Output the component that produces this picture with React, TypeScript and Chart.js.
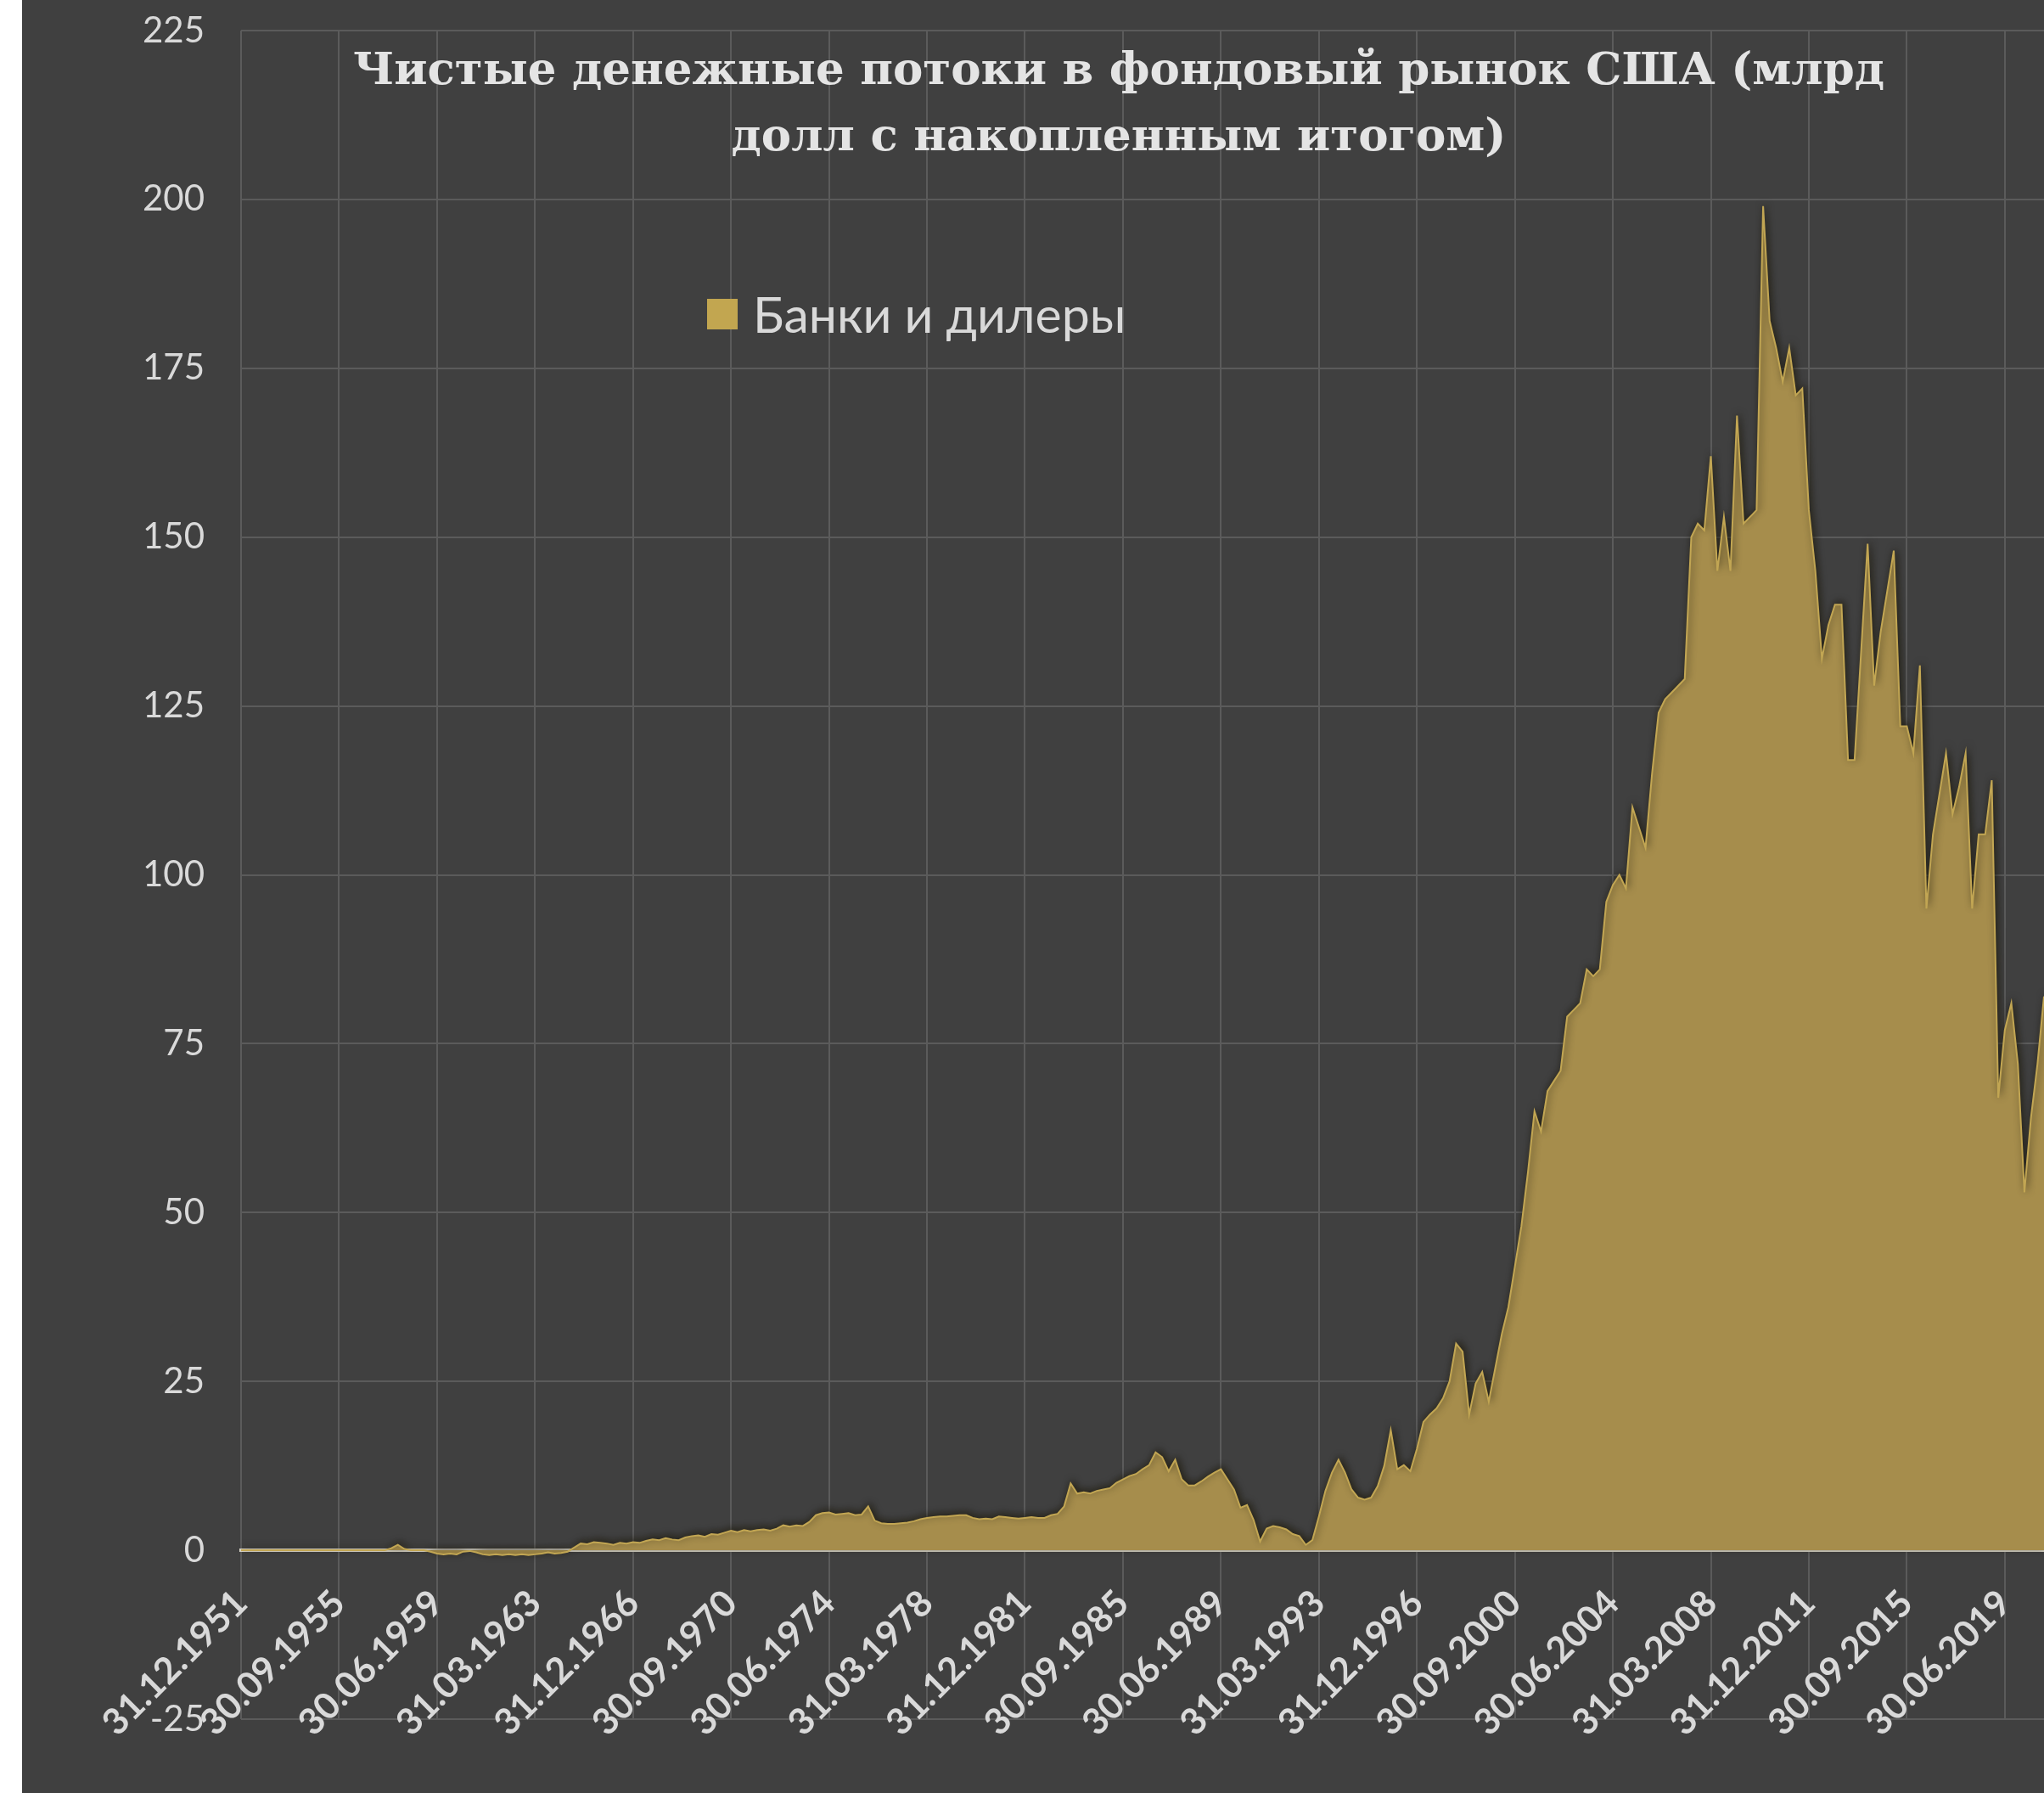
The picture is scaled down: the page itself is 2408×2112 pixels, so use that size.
import React, { useEffect, useRef } from "react";
import { Chart, registerables } from "chart.js";

Chart.register(...registerables);

// Cumulative net flows, bn USD, quarterly from 31.12.1951
const FLOWS_A = [0, 0, 0, 0, 0, 0, 0, 0, 0, 0, 0, 0, 0, 0, 0, 0, 0, 0, 0, 0];
const FLOWS_B = [0, 0, 0, 0.3, 0.8, 0.2, 0, 0, 0, -0.2, -0.5, -0.6, -0.5, -0.6, -0.2, -0.1, -0.3, -0.6, -0.7, -0.6];
const FLOWS_C = [-0.7, -0.6, -0.7, -0.6, -0.7, -0.6, -0.5, -0.3, -0.5, -0.4, -0.2, 0.4, 1.0, 0.9, 1.2, 1.1, 1.0, 0.8, 1.1, 1.0];
const FLOWS_D = [1.2, 1.1, 1.4, 1.6, 1.5, 1.8, 1.6, 1.5, 1.9, 2.1, 2.2, 2.0, 2.4, 2.3, 2.6, 2.9, 2.7, 3.0, 2.8, 3.0];
const FLOWS_E = [3.1, 2.9, 3.2, 3.7, 3.5, 3.7, 3.6, 4.2, 5.2, 5.5, 5.6, 5.3, 5.4, 5.5, 5.2, 5.3, 6.5, 4.4, 4.0, 3.9];
const FLOWS_F = [3.9, 4.0, 4.1, 4.3, 4.6, 4.8, 4.9, 5.0, 5.0, 5.1, 5.2, 5.2, 4.8, 4.6, 4.7, 4.6, 5.0, 4.9, 4.8, 4.7];
const FLOWS_G = [4.8, 4.9, 4.8, 4.8, 5.2, 5.4, 6.5, 9.9, 8.4, 8.6, 8.4, 8.8, 9.0, 9.2, 10.0, 10.5, 11.0, 11.3, 12.0, 12.6];
const FLOWS_H = [14.5, 13.8, 11.7, 13.4, 10.5, 9.6, 9.6, 10.2, 10.9, 11.5, 12.0, 10.5, 9.0, 6.3, 6.7, 4.5, 1.3, 3.2, 3.6, 3.4];
const FLOWS_I = [3.1, 2.4, 2.1, 0.8, 1.5, 5.0, 8.8, 11.5, 13.4, 11.5, 9.0, 7.8, 7.5, 7.8, 9.5, 12.5, 17.8, 12.0, 12.6, 11.7];
const FLOWS_J = [15.0, 19.0, 20.1, 21.0, 22.5, 25.0, 30.6, 29.4, 20.1, 24.7, 26.4, 22.0, 27.0, 32.0, 36.0, 42.0, 48.0, 56.0, 65.0, 62.0];
const FLOWS_K = [68, 69.5, 71, 79, 80, 81, 86, 85, 86, 96, 98.5, 100, 98, 110, 107, 104, 115, 124, 126, 127];
const FLOWS_L = [128, 129, 150, 152, 151, 162, 145, 153, 145, 168, 152, 153, 154, 199, 182, 178, 173, 178, 171, 172];
const FLOWS_M = [154, 145, 132, 137, 140, 140, 117, 117, 133, 149, 128, 136, 142, 148, 122, 122, 118, 131, 95, 106];
const FLOWS_N = [112, 118, 109, 113, 118, 95, 106, 106, 114, 67, 77, 81, 72, 53, 64, 72, 82];

const SERIES: number[] = [
  ...FLOWS_A, ...FLOWS_B, ...FLOWS_C, ...FLOWS_D, ...FLOWS_E, ...FLOWS_F, ...FLOWS_G,
  ...FLOWS_H, ...FLOWS_I, ...FLOWS_J, ...FLOWS_K, ...FLOWS_L, ...FLOWS_M, ...FLOWS_N,
];

const QUARTER_ENDS = ["31.03", "30.06", "30.09", "31.12"];
const FIRST_YEAR = 1951;
const CATEGORIES: string[] = SERIES.map((_, i) => {
  const q = 3 + i;
  return `${QUARTER_ENDS[q % 4]}.${FIRST_YEAR + Math.floor(q / 4)}`;
});

const TICK_LABELS = [
  "31.12.1951", "30.09.1955", "30.06.1959", "31.03.1963", "31.12.1966", "30.09.1970",
  "30.06.1974", "31.03.1978", "31.12.1981", "30.09.1985", "30.06.1989", "31.03.1993",
  "31.12.1996", "30.09.2000", "30.06.2004", "31.03.2008", "31.12.2011", "30.09.2015",
  "30.06.2019",
];

const SERIES_NAME = "Банки и дилеры";
const TITLE_LINES = ["Чистые денежные потоки в фондовый рынок США (млрд", "долл с накопленным итогом)"];

const Y_MIN = -25;
const Y_MAX = 225;
const Y_STEP = 25;

const BG = "#404040";
const GRID = "#5b5b5b";
const TEXT = "#d9d9d9";
const FILL = "#a68d4c";
const EDGE = "#c2a653";

const edgeShadow = {
  id: "edgeShadow",
  beforeDatasetsDraw(chart: any) {
    const ctx = chart.ctx;
    ctx.save();
    ctx.shadowColor = "rgba(30,26,12,0.75)";
    ctx.shadowBlur = 8;
    ctx.shadowOffsetX = 2;
    ctx.shadowOffsetY = -2;
  },
  afterDatasetsDraw(chart: any) {
    chart.ctx.restore();
  },
};

export default function App() {
  const ref = useRef<HTMLCanvasElement | null>(null);

  useEffect(() => {
    if (!ref.current) return;
    const chart = new Chart(ref.current, {
      type: "line",
      data: {
        labels: CATEGORIES,
        datasets: [
          {
            label: SERIES_NAME,
            data: SERIES,
            fill: "origin",
            backgroundColor: FILL,
            borderColor: EDGE,
            borderWidth: 2,
            pointRadius: 0,
            tension: 0,
          },
        ],
      },
      plugins: [edgeShadow],
      options: {
        animation: false,
        responsive: false,
        devicePixelRatio: 1,
        layout: { padding: { top: 36, bottom: 87, left: 0, right: 0 } },
        plugins: {
          legend: { display: false },
          title: { display: false },
          tooltip: { enabled: false },
        },
        scales: {
          x: {
            type: "category",
            position: { y: 0 } as any,
            offset: false,
            border: { display: true, color: "#dcd8cc", width: 4 },
            grid: {
              drawTicks: false,
              lineWidth: 2,
              color: GRID,
            },
            ticks: {
              autoSkip: false,
              maxRotation: 45,
              minRotation: 45,
              padding: 37,
              labelOffset: 0,
              color: TEXT,
              font: { family: "Lato", size: 43, weight: "bold" },
              callback: (_v: any, idx: number) =>
                TICK_LABELS.includes(CATEGORIES[idx]) ? CATEGORIES[idx] : null,
            },
            afterFit: (scale: any) => {
              scale.paddingLeft = 0;
              scale.paddingRight = 0;
            },
          },
          y: {
            min: Y_MIN,
            max: Y_MAX,
            position: "left",
            border: { display: false },
            grid: { drawTicks: false, lineWidth: 2, color: GRID },
            ticks: {
              stepSize: Y_STEP,
              padding: 43,
              color: TEXT,
              font: { family: "Lato", size: 42 },
            },
            afterFit: (scale: any) => {
              scale.width = 258;
              scale.paddingTop = 0;
              scale.paddingBottom = 0;
            },
          },
        },
      },
    });
    return () => chart.destroy();
  }, []);

  return (
    <div
      style={{
        position: "fixed",
        left: 0,
        top: 0,
        width: 2408,
        height: 2112,
        background: "#ffffff",
        overflow: "hidden",
      }}
    >
      <div
        style={{
          position: "absolute",
          left: 26,
          top: 0,
          width: 2382,
          height: 2112,
          background: BG,
        }}
      >
        <canvas ref={ref} width={2382} height={2112} style={{ position: "absolute", left: 0, top: 0 }} />
        <div
          style={{
            position: "absolute",
            left: 292,
            top: 41,
            width: 2000,
            textAlign: "center",
            fontFamily: "'DejaVu Serif', serif",
            fontWeight: "bold",
            fontSize: 53,
            lineHeight: "78px",
            color: "#e4e4e4",
            whiteSpace: "nowrap",
          }}
        >
          {TITLE_LINES.map((t) => (
            <div key={t}>{t}</div>
          ))}
        </div>
        <div
          style={{
            position: "absolute",
            left: 807,
            top: 340,
            height: 60,
            display: "flex",
            alignItems: "center",
            gap: 18,
          }}
        >
          <div style={{ width: 36, height: 36, background: "#c2a650" }} />
          <div style={{ fontFamily: "Lato", fontSize: 59, color: TEXT, lineHeight: "60px" }}>{SERIES_NAME}</div>
        </div>
      </div>
    </div>
  );
}
